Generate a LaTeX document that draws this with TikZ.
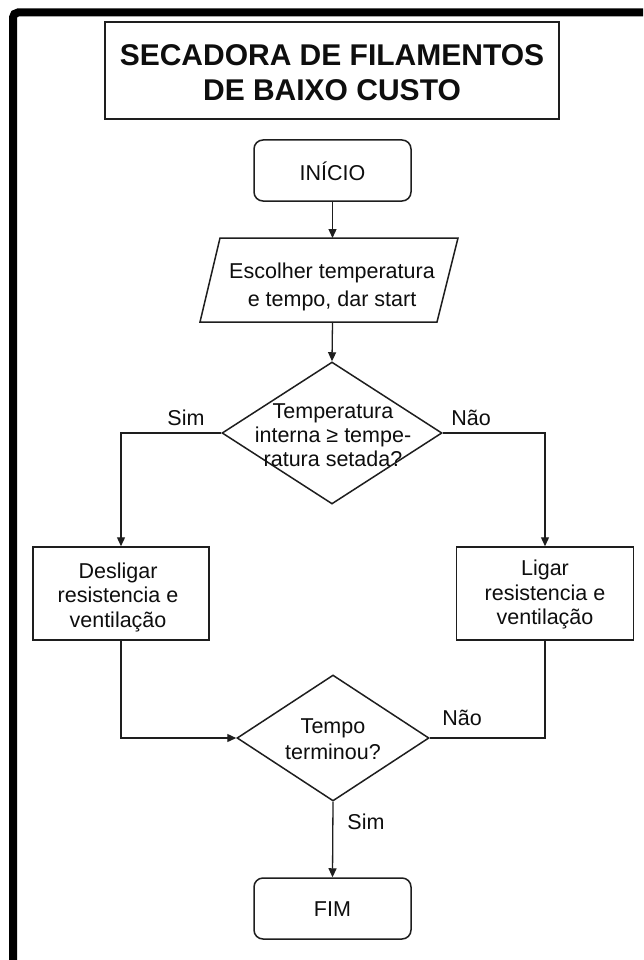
\documentclass[tikz,border=0pt]{standalone}
\usepackage{fontspec}
\setmainfont{Liberation Sans}
\usetikzlibrary{arrows.meta,shapes.geometric,calc}
\definecolor{inkc}{HTML}{0E0E0E}
\definecolor{linec}{HTML}{1E1E1E}
\begin{document}
\begin{tikzpicture}[x=1pt,y=-1pt,
  txt/.style={text=inkc, align=center, font=\fontsize{21.5}{24.5}\selectfont, inner sep=0pt},
  lbl/.style={text=inkc, font=\fontsize{21.5}{24.5}\selectfont, inner sep=0pt},
  shapebox/.style={draw=linec, line width=1.5pt, inner sep=0pt},
  conn/.style={draw=linec, line width=1.3pt},
  arr/.style={conn, -{Triangle[length=9pt,width=8pt]}}
]
\useasboundingbox (0,0) rectangle (643,960);
\clip (0,0) rectangle (643,960);
\fill[white] (0,0) rectangle (643,960);
% outer frame (top and left only visible)
\draw[line width=8pt, rounded corners=5pt, black] (13,990) -- (13,12.5) -- (680,12.5);

% title
\node[shapebox, minimum width=454pt, minimum height=97pt] (title) at (332,70.5) {};
\node[text=inkc, align=center, inner sep=0pt, font=\fontsize{30}{35}\selectfont\bfseries] (titletxt) at (332,73) {SECADORA DE FILAMENTOS\\DE BAIXO CUSTO};

% start
\node[shapebox, rounded corners=9pt, minimum width=157pt, minimum height=61pt] (inicio) at (332.5,170.5) {};
\node[txt] (iniciotxt) at (332.5,171) {INÍCIO};

% input parallelogram
\coordinate (ptl) at (220,238);
\coordinate (ptr) at (458,238);
\coordinate (pbr) at (437,322);
\coordinate (pbl) at (200,322);
\draw[draw=linec, line width=1.5pt] (ptl) -- (ptr) -- (pbr) -- (pbl) -- cycle;
\node[txt, font=\fontsize{21.5}{28}\selectfont] (param) at (332,287) {Escolher temperatura\\e tempo, dar start};

% decision 1
\node[shapebox, diamond, minimum width=220pt, minimum height=142pt] (d1) at (332,433) {};
\node[txt, font=\fontsize{21.5}{24}\selectfont] (d1txt) at (333,435) {Temperatura\\interna ≥ tempe-\\ratura setada?};

% boxes
\node[shapebox, minimum width=176pt, minimum height=93pt] (bl) at (121,593.5) {};
\node[txt] (bltxt) at (118,597) {Desligar\\resistencia e\\ventilação};
\node[shapebox, minimum width=177pt, minimum height=93pt] (br) at (545,593.5) {};
\node[txt] (brtxt) at (545,594.5) {Ligar\\resistencia e\\ventilação};

% decision 2
\node[shapebox, diamond, minimum width=192pt, minimum height=126pt] (d2) at (333,738) {};
\node[txt, font=\fontsize{21.5}{26}\selectfont] (d2txt) at (333,739) {Tempo\\terminou?};

% end
\node[shapebox, rounded corners=9pt, minimum width=157pt, minimum height=61pt] (fim) at (332.5,908.5) {};
\node[txt] (fimtxt) at (332.5,909) {FIM};

% connectors
\draw[arr] (inicio.south) -- (inicio.south |- ptl);
\draw[arr] (inicio.south |- pbl) -- (d1.north);
\draw[arr] (d1.west) -| (bl.north);
\draw[arr] (d1.east) -| (br.north);
\draw[arr] (bl.south) |- (d2.west);
\draw[conn] (br.south) |- (d2.east);
\draw[arr] (d2.south) -- (fim.north);

% labels
\node[lbl] (sim1) at (186,418) {Sim};
\node[lbl] (nao1) at (471,418) {Não};
\node[lbl] (nao2) at (462,718) {Não};
\node[lbl] (sim2) at (366,822) {Sim};
\end{tikzpicture}
\end{document}
